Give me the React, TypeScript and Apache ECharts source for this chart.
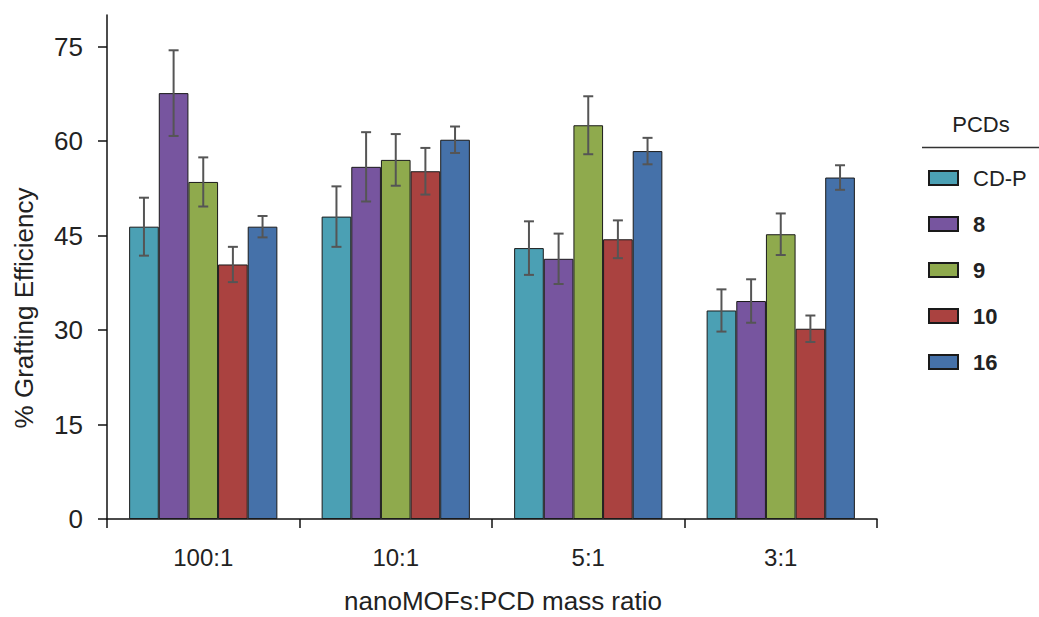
import React, { useEffect, useRef } from "react";
import * as echarts from "echarts";

const categories = ["100:1", "10:1", "5:1", "3:1"];
const seriesNames = ["CD-P", "8", "9", "10", "16"];
const colors = ["#4BA0B4", "#77559F", "#8FAA4D", "#AA4240", "#4571A9"];
const valuesCDP = [46.4, 48.0, 43.0, 33.1];
const values8 = [67.6, 55.9, 41.3, 34.6];
const values9 = [53.5, 57.0, 62.5, 45.2];
const values10 = [40.4, 55.2, 44.4, 30.2];
const values16 = [46.4, 60.2, 58.4, 54.2];
const errCDP = [4.6, 4.8, 4.25, 3.35];
const err8 = [6.8, 5.5, 4.0, 3.45];
const err9 = [3.9, 4.1, 4.6, 3.3];
const err10 = [2.8, 3.7, 3.0, 2.1];
const err16 = [1.7, 2.1, 2.1, 1.95];
const yTicks = [0, 15, 30, 45, 60, 75];
const yTitle = "% Grafting Efficiency";
const xTitle = "nanoMOFs:PCD mass ratio";
const legendTitle = "PCDs";

const allValues = [valuesCDP, values8, values9, values10, values16];
const allErrors = [errCDP, err8, err9, err10, err16];

const FONT = "'Liberation Sans', Arial, sans-serif";
const CAT_GAP = 0.23;

export default function App() {
  const ref = useRef<HTMLDivElement>(null);
  useEffect(() => {
    if (!ref.current) return;
    const chart = echarts.init(ref.current, null, { renderer: "svg" });
    const nS = seriesNames.length;

    const barSeries = seriesNames.map((name, i) => ({
      name,
      type: "bar",
      data: allValues[i],
      barGap: "0%",
      barCategoryGap: CAT_GAP * 100 + "%",
      itemStyle: { color: colors[i], borderColor: "#1a1a1a", borderWidth: 1 },
      z: 2,
    }));

    const errData: number[][] = [];
    allValues.forEach((vals, s) => {
      vals.forEach((v, c) => {
        errData.push([c, v - allErrors[s][c], v + allErrors[s][c], s]);
      });
    });

    const errSeries = {
      type: "custom",
      name: "err",
      data: errData,
      z: 5,
      encode: { x: 0, y: [1, 2] },
      renderItem: (params: any, api: any) => {
        const c = api.value(0);
        const lo = api.value(1);
        const hi = api.value(2);
        const s = api.value(3);
        const band = api.size([1, 0])[0];
        const total = band * (1 - CAT_GAP);
        const bw = total / nS;
        const center = api.coord([c, 0])[0];
        const x = center - total / 2 + (s + 0.5) * bw;
        const yLo = api.coord([c, lo])[1];
        const yHi = api.coord([c, hi])[1];
        const cap = 5;
        const st = { stroke: "#555555", lineWidth: 2 };
        return {
          type: "group",
          children: [
            { type: "line", shape: { x1: x, y1: yLo, x2: x, y2: yHi }, style: st },
            { type: "line", shape: { x1: x - cap, y1: yHi, x2: x + cap, y2: yHi }, style: st },
            { type: "line", shape: { x1: x - cap, y1: yLo, x2: x + cap, y2: yLo }, style: st },
          ],
        };
      },
    };

    chart.setOption({
      animation: false,
      backgroundColor: "#ffffff",
      textStyle: { fontFamily: FONT },
      grid: { left: 107, width: 770, top: 15, height: 504, containLabel: false },
      xAxis: {
        type: "category",
        data: categories,
        axisLine: { lineStyle: { color: "#111", width: 1.5 } },
        axisTick: { show: true, length: 9, lineStyle: { color: "#111", width: 1.5 } },
        axisLabel: { color: "#222", fontSize: 24, margin: 26, fontFamily: FONT },
      },
      yAxis: {
        type: "value",
        min: 0,
        max: 80,
        interval: 15,
        splitLine: { show: false },
        axisLine: { show: true, lineStyle: { color: "#111", width: 1.5 } },
        axisTick: { show: true, length: 9, lineStyle: { color: "#111", width: 1.5 }, customValues: yTicks },
        axisLabel: { color: "#222", fontSize: 26, margin: 24, fontFamily: FONT, customValues: yTicks },
      },
      legend: {
        data: seriesNames,
        orient: "vertical",
        left: 923,
        top: 162,
        itemWidth: 29,
        itemHeight: 14,
        itemGap: 24,
        icon: "rect",
        formatter: (n: string) => (n === "CD-P" ? `{n|${n}}` : `{b|${n}}`),
        textStyle: {
          rich: {
            n: { fontSize: 22, color: "#222", fontFamily: FONT, padding: [0, 0, 0, 10], lineHeight: 22 },
            b: { fontSize: 22, fontWeight: "bold", color: "#222", fontFamily: FONT, padding: [0, 0, 0, 10], lineHeight: 22 },
          },
        },
      },
      graphic: [
        {
          type: "text",
          x: 981,
          y: 124,
          style: { text: legendTitle, fontSize: 22, fill: "#222", fontFamily: FONT, align: "center", verticalAlign: "middle" },
        },
        {
          type: "line",
          shape: { x1: 922, y1: 147.5, x2: 1039, y2: 147.5 },
          style: { stroke: "#333", lineWidth: 1.5 },
        },
        {
          type: "text",
          x: 24,
          y: 308,
          rotation: Math.PI / 2,
          style: { text: yTitle, fontSize: 26, fill: "#222", fontFamily: FONT, align: "center", verticalAlign: "middle" },
        },
        {
          type: "text",
          x: 503,
          y: 601,
          style: { text: xTitle, fontSize: 26, fill: "#222", fontFamily: FONT, align: "center", verticalAlign: "middle" },
        },
      ],
      series: [...barSeries, errSeries],
    });
    return () => chart.dispose();
  }, []);
  return <div ref={ref} style={{ width: 1039, height: 617, position: "absolute", left: 0, top: 0 }} />;
}
